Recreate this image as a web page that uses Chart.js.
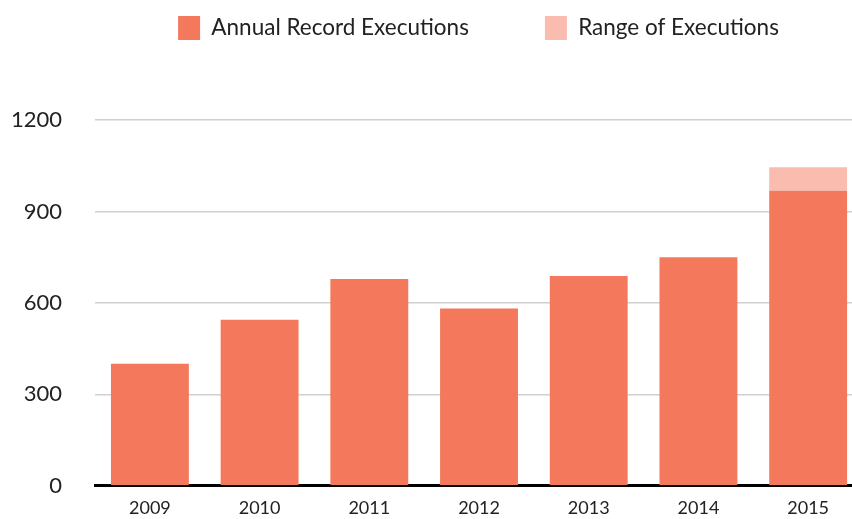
<!DOCTYPE html>
<html><head><meta charset="utf-8">
<script src="https://cdn.jsdelivr.net/npm/chart.js@4/dist/chart.umd.min.js"></script>
<style>
html,body{margin:0;padding:0;background:#fff;overflow:hidden;}
#wrap{width:866px;height:532px;position:relative;}
</style></head>
<body>
<div id="wrap"><canvas id="c" width="866" height="532"></canvas></div>
<script>
const years = ["2009","2010","2011","2012","2013","2014","2015"];
const annualRecord = [400, 545, 678, 582, 688, 750, 968];
const rangeExtra = [0, 0, 0, 0, 0, 0, 77];
const yTicks = [0, 300, 600, 900, 1200];

const legendSpacer = {
  id: 'legendSpacer',
  beforeInit(chart) {
    const origFit = chart.legend.fit;
    chart.legend.fit = function() {
      origFit.bind(chart.legend)();
      this.height += 70;
    };
  },
  afterLayout(chart) {
    chart.legend.left += 58;
    chart.legend.right += 58;
  }
};

new Chart(document.getElementById('c'), {
  type: 'bar',
  data: {
    labels: years,
    datasets: [
      { label: 'Annual Record Executions', data: annualRecord, backgroundColor: '#F3785C', borderWidth: 0 },
      { label: 'Range of Executions', data: rangeExtra, backgroundColor: '#F9BCAF', borderWidth: 0 }
    ]
  },
  options: {
    responsive: false,
    animation: false,
    layout: { padding: { left: -22, right: 3, top: -60, bottom: 0 } },
    datasets: { bar: { categoryPercentage: 1.0, barPercentage: 0.71 } },
    plugins: {
      tooltip: { enabled: false },
      legend: {
        position: 'top',
        align: 'center',
        labels: {
          boxWidth: 22, boxHeight: 24, padding: 76,
          color: '#222',
          font: { family: 'Lato', size: 22.5 }
        }
      }
    },
    scales: {
      x: {
        stacked: true,
        grid: { display: false, drawTicks: false },
        border: { display: true, color: '#000', width: 3 },
        ticks: { color: '#222', padding: 12, font: { family: 'Lato', size: 18 } }
      },
      y: {
        stacked: true,
        min: 0, max: 1200,
        afterBuildTicks(axis) { axis.ticks = yTicks.map(v => ({ value: v })); },
        grid: { color: '#d0d0d0', lineWidth: 1.5, drawTicks: false },
        border: { display: false },
        ticks: { color: '#222', padding: 33, font: { family: 'Lato', size: 22 }, callback: (v) => String(v) }
      }
    }
  },
  plugins: [legendSpacer]
});
</script>
</body></html>
